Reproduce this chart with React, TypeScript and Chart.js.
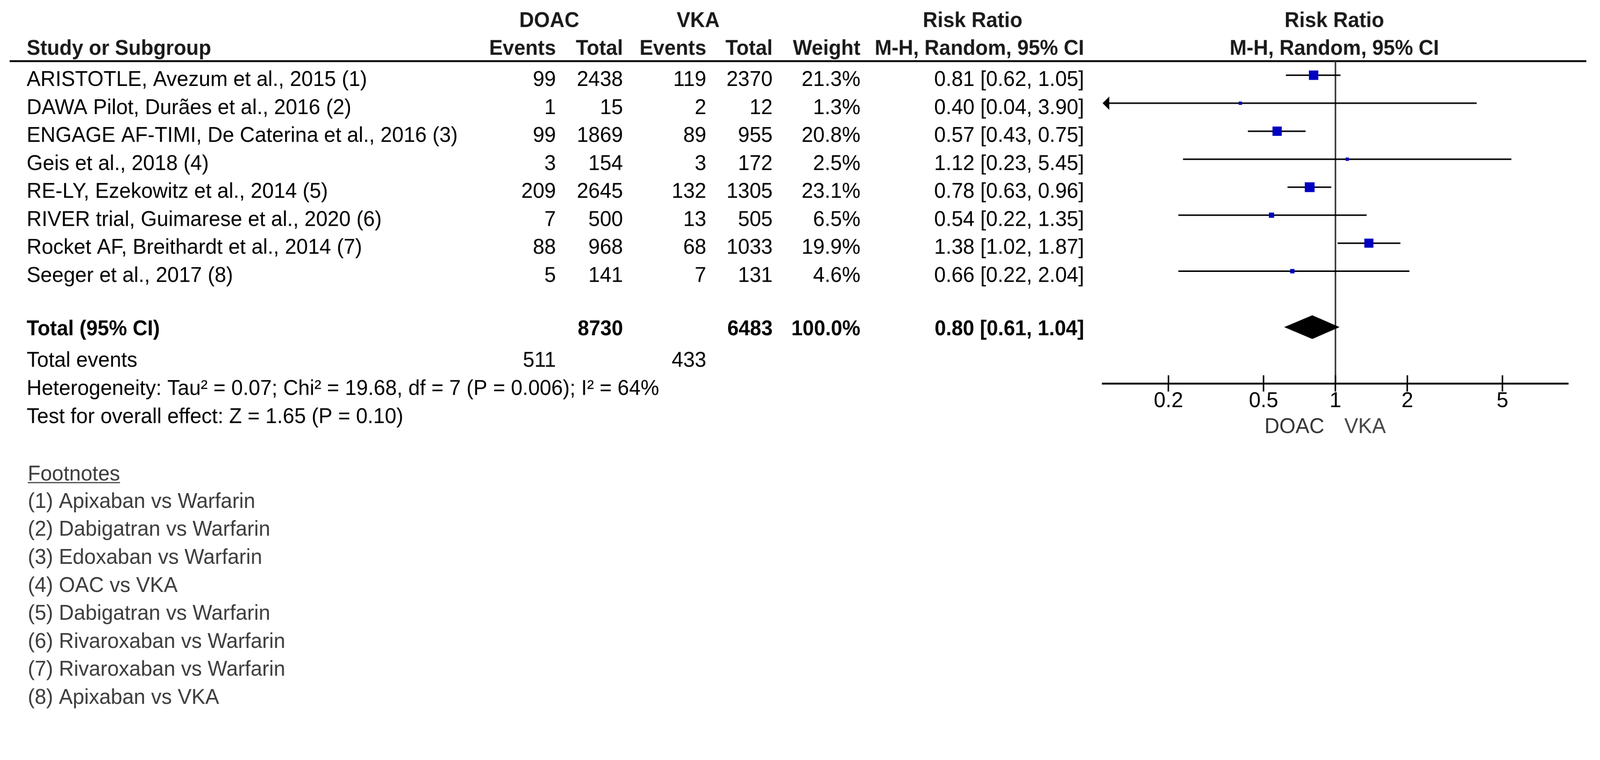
import { useEffect, useRef } from "react";
import { Chart, registerables } from "chart.js";

Chart.register(...registerables);

// ---------- data ----------
const studies = [
  "ARISTOTLE, Avezum et al., 2015 (1)",
  "DAWA Pilot, Durães et al., 2016 (2)",
  "ENGAGE AF-TIMI, De Caterina et al., 2016 (3)",
  "Geis et al., 2018 (4)",
  "RE-LY, Ezekowitz et al., 2014 (5)",
  "RIVER trial, Guimarese et al., 2020 (6)",
  "Rocket AF, Breithardt et al., 2014 (7)",
  "Seeger et al., 2017 (8)",
];
const doacEvents = [99, 1, 99, 3, 209, 7, 88, 5];
const doacTotal = [2438, 15, 1869, 154, 2645, 500, 968, 141];
const vkaEvents = [119, 2, 89, 3, 132, 13, 68, 7];
const vkaTotal = [2370, 12, 955, 172, 1305, 505, 1033, 131];
const weights = [21.3, 1.3, 20.8, 2.5, 23.1, 6.5, 19.9, 4.6];
const rr = [0.81, 0.4, 0.57, 1.12, 0.78, 0.54, 1.38, 0.66];
const rrLow = [0.62, 0.04, 0.43, 0.23, 0.63, 0.22, 1.02, 0.22];
const rrHigh = [1.05, 3.9, 0.75, 5.45, 0.96, 1.35, 1.87, 2.04];

const totalDoac = 8730;
const totalVka = 6483;
const totalWeight = 100.0;
const totalRR = [0.8, 0.61, 1.04];
const totalEventsDoac = 511;
const totalEventsVka = 433;

const heterogeneityText =
  "Heterogeneity: Tau² = 0.07; Chi² = 19.68, df = 7 (P = 0.006); I² = 64%";
const overallText = "Test for overall effect: Z = 1.65 (P = 0.10)";

const tickValues = [0.2, 0.5, 1, 2, 5];
const tickLabels = ["0.2", "0.5", "1", "2", "5"];
const favoursLeft = "DOAC";
const favoursRight = "VKA";

const footnotes = [
  "(1) Apixaban vs Warfarin",
  "(2) Dabigatran vs Warfarin",
  "(3) Edoxaban vs Warfarin",
  "(4) OAC vs VKA",
  "(5) Dabigatran vs Warfarin",
  "(6) Rivaroxaban vs Warfarin",
  "(7) Rivaroxaban vs Warfarin",
  "(8) Apixaban vs VKA",
];

// ---------- layout ----------
const W = 4320;
const H = 1945;
const FONT = "'Liberation Sans', Arial, sans-serif";
const REG = `56px ${FONT}`;
const BOLD = `bold 55px ${FONT}`;
const TEXT_VSTRETCH = 1.04;
const LEFT_X = 72;
const COLS = [1501, 1682, 1907, 2086, 2323, 2927];
const RULE_LEFT = 26;
const RULE_RIGHT = 4283;
const BASE_OFF = 29; // text baseline below row centre

const boxSide = (w: number) => Math.max(9, 5.5 * Math.sqrt(w));

const forestPlugin = {
  id: "forest",
  beforeDraw(chart: any) {
    const { ctx } = chart;
    ctx.save();
    ctx.fillStyle = "#fff";
    ctx.fillRect(0, 0, chart.width, chart.height);
    ctx.restore();
  },
  beforeDatasetsDraw(chart: any) {
    const { ctx, chartArea } = chart;
    const x = chart.scales.x;
    const y = chart.scales.y;
    const one = x.getPixelForValue(1);
    const line = (x1: number, y1: number, x2: number, y2: number) => {
      ctx.beginPath();
      ctx.moveTo(x1, y1);
      ctx.lineTo(x2, y2);
      ctx.stroke();
    };
    ctx.save();
    // header rule
    ctx.strokeStyle = "#000";
    ctx.lineWidth = 5;
    line(RULE_LEFT, chartArea.top, RULE_RIGHT, chartArea.top);
    // line of no effect
    ctx.strokeStyle = "#333";
    ctx.lineWidth = 4;
    line(one, chartArea.top, one, chartArea.bottom);
    // upper halves of tick marks
    ctx.strokeStyle = "#000";
    ctx.lineWidth = 4;
    tickValues.forEach((v) => {
      const px = x.getPixelForValue(v);
      line(px, chartArea.bottom - 22, px, chartArea.bottom);
    });
    // confidence intervals
    ctx.strokeStyle = "#000";
    ctx.lineWidth = 4;
    rr.forEach((_, i) => {
      const yy = y.getPixelForValue(i);
      const lo = Math.max(rrLow[i], x.min);
      const hi = Math.min(rrHigh[i], x.max);
      const xl = x.getPixelForValue(lo);
      const xh = x.getPixelForValue(hi);
      line(xl + (rrLow[i] < x.min ? 10 : 0), yy, xh - (rrHigh[i] > x.max ? 10 : 0), yy);
      ctx.fillStyle = "#000";
      if (rrLow[i] < x.min) {
        ctx.beginPath();
        ctx.moveTo(xl, yy);
        ctx.lineTo(xl + 18, yy - 18);
        ctx.lineTo(xl + 18, yy + 18);
        ctx.closePath();
        ctx.fill();
      }
      if (rrHigh[i] > x.max) {
        ctx.beginPath();
        ctx.moveTo(xh, yy);
        ctx.lineTo(xh - 18, yy - 18);
        ctx.lineTo(xh - 18, yy + 18);
        ctx.closePath();
        ctx.fill();
      }
    });
    // pooled diamond
    const dy = y.getPixelForValue(9);
    ctx.fillStyle = "#000";
    ctx.beginPath();
    ctx.moveTo(x.getPixelForValue(totalRR[1]), dy);
    ctx.lineTo(x.getPixelForValue(totalRR[0]), dy - 32);
    ctx.lineTo(x.getPixelForValue(totalRR[2]), dy);
    ctx.lineTo(x.getPixelForValue(totalRR[0]), dy + 32);
    ctx.closePath();
    ctx.fill();
    ctx.restore();
  },
  afterDraw(chart: any) {
    const { ctx, chartArea } = chart;
    const x = chart.scales.x;
    const y = chart.scales.y;
    const one = x.getPixelForValue(1);
    const base = (r: number) => y.getPixelForValue(r) + BASE_OFF;
    const txt = (
      s: string,
      px: number,
      py: number,
      align: CanvasTextAlign,
      font: string,
      color = "#000"
    ) => {
      ctx.save();
      ctx.font = font;
      ctx.fillStyle = color;
      ctx.textAlign = align;
      ctx.textBaseline = "alphabetic";
      ctx.translate(px, py);
      ctx.scale(1, TEXT_VSTRETCH);
      ctx.fillText(s, 0, 0);
      ctx.restore();
    };
    ctx.save();
    // headers
    const h1 = base(-2.105);
    const h2 = base(-1.112);
    const hc = "#1a1a1a";
    txt("DOAC", 1483, h1, "center", BOLD, hc);
    txt("VKA", 1885, h1, "center", BOLD, hc);
    txt("Risk Ratio", 2626, h1, "center", BOLD, hc);
    txt("Risk Ratio", one - 3, h1, "center", BOLD, hc);
    txt("Study or Subgroup", LEFT_X, h2, "left", BOLD, hc);
    const heads = ["Events", "Total", "Events", "Total", "Weight", "M-H, Random, 95% CI"];
    heads.forEach((h, k) => txt(h, COLS[k], h2, "right", BOLD, hc));
    txt("M-H, Random, 95% CI", one - 3, h2, "center", BOLD, hc);

    // study rows
    studies.forEach((s, i) => {
      const b = base(i);
      txt(s, LEFT_X, b, "left", REG);
      const vals = [
        String(doacEvents[i]),
        String(doacTotal[i]),
        String(vkaEvents[i]),
        String(vkaTotal[i]),
        weights[i].toFixed(1) + "%",
        `${rr[i].toFixed(2)} [${rrLow[i].toFixed(2)}, ${rrHigh[i].toFixed(2)}]`,
      ];
      vals.forEach((v, k) => txt(v, COLS[k], b, "right", REG));
    });

    // total row
    const bt = base(8.908);
    txt("Total (95% CI)", LEFT_X, bt, "left", BOLD);
    txt(String(totalDoac), COLS[1], bt, "right", BOLD);
    txt(String(totalVka), COLS[3], bt, "right", BOLD);
    txt(totalWeight.toFixed(1) + "%", COLS[4], bt, "right", BOLD);
    txt(
      `${totalRR[0].toFixed(2)} [${totalRR[1].toFixed(2)}, ${totalRR[2].toFixed(2)}]`,
      COLS[5],
      bt,
      "right",
      BOLD
    );
    const be = base(10.03);
    txt("Total events", LEFT_X, be, "left", REG);
    txt(String(totalEventsDoac), COLS[0], be, "right", REG);
    txt(String(totalEventsVka), COLS[2], be, "right", REG);
    txt(heterogeneityText, LEFT_X, base(11.03), "left", REG);
    txt(overallText, LEFT_X, base(12.04), "left", REG);

    // favours labels
    const bf = chartArea.bottom + 134;
    txt(favoursLeft, one - 30, bf, "right", REG, "#333");
    txt(favoursRight, one + 24, bf, "left", REG, "#444");

    // footnotes
    const fc = "#3c3c3c";
    const bh = base(14.09);
    txt("Footnotes", LEFT_X + 3, bh, "left", REG, fc);
    ctx.font = REG;
    const fw = ctx.measureText("Footnotes").width;
    ctx.strokeStyle = fc;
    ctx.lineWidth = 3;
    ctx.beginPath();
    ctx.moveTo(LEFT_X + 3, bh + 6);
    ctx.lineTo(LEFT_X + 3 + fw, bh + 6);
    ctx.stroke();
    footnotes.forEach((f, k) => txt(f, LEFT_X + 3, base(15.07 + k), "left", REG, fc));
    ctx.restore();
  },
};

export default function App() {
  const ref = useRef<HTMLCanvasElement>(null);
  useEffect(() => {
    document.body.style.margin = "0";
    document.documentElement.style.overflow = "hidden";
    document.body.style.overflow = "hidden";
    const canvas = ref.current!;
    const chart = new Chart(canvas, {
      type: "scatter",
      data: {
        datasets: [
          {
            label: "Risk Ratio",
            data: rr.map((v, i) => ({ x: v, y: i })),
            pointStyle: "rect",
            pointRadius: weights.map((w) => boxSide(w) / (2 * Math.SQRT1_2)),
            pointHoverRadius: weights.map((w) => boxSide(w) / (2 * Math.SQRT1_2)),
            backgroundColor: "#0000c0",
            borderColor: "#0000c0",
            borderWidth: 0,
          },
        ],
      },
      options: {
        responsive: false,
        animation: false,
        devicePixelRatio: 1,
        events: [],
        layout: { padding: { left: 2977, right: 86, top: 165, bottom: 780 } },
        plugins: {
          legend: { display: false },
          tooltip: { enabled: false },
          title: { display: false },
        },
        scales: {
          x: {
            type: "logarithmic",
            min: 0.106,
            max: 9.42,
            position: "bottom",
            afterBuildTicks: (s: any) => {
              s.ticks = tickValues.map((v) => ({ value: v }));
            },
            afterFit: (s: any) => {
              s.height = 130;
            },
            ticks: {
              autoSkip: false,
              maxRotation: 0,
              padding: -8,
              color: "#000",
              font: { family: FONT, size: 57 },
              callback: (_v: any, i: number) => tickLabels[i],
            },
            grid: {
              drawOnChartArea: false,
              drawTicks: true,
              tickLength: 22,
              tickWidth: 4,
              tickColor: "#000",
            },
            border: { display: true, width: 5, color: "#000" },
          },
          y: {
            type: "linear",
            reverse: true,
            min: -0.503,
            max: 11.01,
            display: false,
          },
        },
      },
      plugins: [forestPlugin],
    } as any);
    return () => chart.destroy();
  }, []);
  return (
    <div
      style={{
        position: "absolute",
        left: 0,
        top: 0,
        width: "100vw",
        height: `${(H / W) * 100}vw`,
        background: "#fff",
        overflow: "hidden",
      }}
    >
      <canvas
        ref={ref}
        width={W}
        height={H}
        style={{ display: "block", width: "100vw", height: `${(H / W) * 100}vw` }}
      />
    </div>
  );
}
